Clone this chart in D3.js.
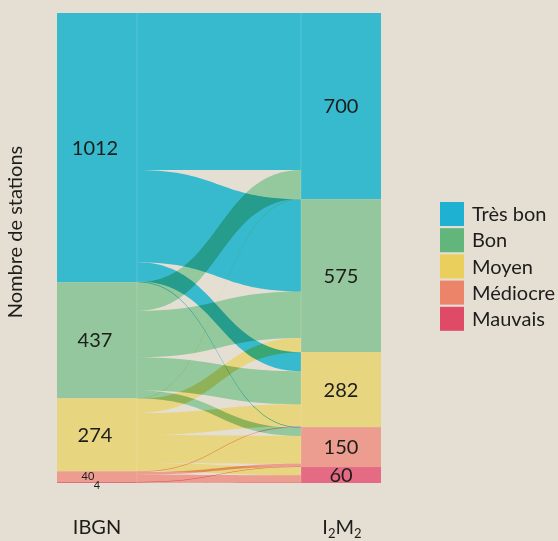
<!DOCTYPE html>
<html>
<head>
<meta charset="utf-8">
<script src="https://cdn.jsdelivr.net/npm/d3@7"></script>
<style>
  html, body { margin: 0; padding: 0; background: #e5ded3; }
  svg { display: block; font-family: Lato, "Open Sans", sans-serif; }
</style>
</head>
<body>
<div id="viz"></div>
<script>
// classes de qualité, du meilleur au pire
const categories = ['Très bon', 'Bon', 'Moyen', 'Médiocre', 'Mauvais'];
const ibgnTotals = [1012, 437, 274, 40, 4];
const i2m2Totals = [700, 575, 282, 150, 60];
// flows[i][j] : stations classées i par IBGN et j par I2M2
const flows = [
  [590, 347, 72, 3, 0],
  [108, 175, 124, 30, 0],
  [2, 53, 83, 105, 31],
  [0, 0, 3, 10, 27],
  [0, 0, 0, 2, 2]
];
const nodeColors = ['#37b9ce', '#94c79d', '#e8d580', '#ec9d8f', '#e46b83'];
const legendColors = ['#1eb1d1', '#62b67c', '#ebcf5c', '#eb8468', '#df4a66'];
const bg = '#e5ded3';

const width = 558, height = 541;
const plotTop = 13, plotBottom = 483;
const leftX0 = 57, leftX1 = 137, rightX0 = 301, rightX1 = 381;

const total = d3.sum(ibgnTotals);
const y = d3.scaleLinear().domain([0, total]).range([plotTop, plotBottom]);

const svg = d3.select('#viz').append('svg')
  .attr('width', width).attr('height', height)
  .attr('viewBox', `0 0 ${width} ${height}`);

// cumulative starts for nodes
const stackStarts = (vals) => { let acc = 0; return vals.map(v => { const s = acc; acc += v; return s; }); };
const leftStart = stackStarts(ibgnTotals);
const rightStart = stackStarts(i2m2Totals);

// links: outgoing stacked in target order, incoming in source order
const outOff = leftStart.slice();
const links = [];
flows.forEach((row, i) => row.forEach((v, j) => {
  links.push({ source: i, target: j, value: v, s0: outOff[i], t0: 0 });
  outOff[i] += v;
}));
categories.forEach((c, j) => {
  let acc = rightStart[j];
  links.filter(l => l.target === j).sort((a, b) => a.source - b.source)
    .forEach(l => { l.t0 = acc; acc += l.value; });
});

const xm = (leftX1 + rightX0) / 2;
function band(l) {
  const a0 = y(l.s0), a1 = y(l.s0 + l.value);
  const b0 = y(l.t0), b1 = y(l.t0 + l.value);
  const p = d3.path();
  p.moveTo(leftX1, a0);
  p.bezierCurveTo(xm, a0, xm, b0, rightX0, b0);
  p.lineTo(rightX0, b1);
  p.bezierCurveTo(xm, b1, xm, a1, leftX1, a1);
  p.closePath();
  return p.toString();
}

// flow colour chosen so that, at this opacity over the background, it matches the node
const flowAlpha = 0.78;
const b = d3.rgb(bg);
const flowColor = (c) => {
  const n = d3.rgb(c);
  const f = (v, w) => Math.max(0, Math.min(255, (v - (1 - flowAlpha) * w) / flowAlpha));
  return d3.rgb(f(n.r, b.r), f(n.g, b.g), f(n.b, b.b)).formatHex();
};

const flowLayer = svg.append('g').style('isolation', 'isolate');
flowLayer.selectAll('path')
  .data(links.filter(l => l.value > 0))
  .enter().append('path')
    .attr('d', band)
    .attr('fill', d => flowColor(nodeColors[d.source]))
    .attr('fill-opacity', flowAlpha)
    .style('mix-blend-mode', 'multiply');

// node columns
svg.append('g').selectAll('rect')
  .data(ibgnTotals)
  .enter().append('rect')
    .attr('x', leftX0)
    .attr('width', leftX1 - leftX0)
    .attr('y', (d, i) => y(leftStart[i]))
    .attr('height', d => y(d) - y(0))
    .attr('fill', (d, i) => nodeColors[i]);

svg.append('g').selectAll('rect')
  .data(i2m2Totals)
  .enter().append('rect')
    .attr('x', rightX0)
    .attr('width', rightX1 - rightX0)
    .attr('y', (d, i) => y(rightStart[i]))
    .attr('height', d => y(d) - y(0))
    .attr('fill', (d, i) => nodeColors[i]);

// faint seams
svg.selectAll('line.seam')
  .data([leftX1, rightX0])
  .enter().append('line')
    .attr('x1', d => d).attr('x2', d => d)
    .attr('y1', plotTop).attr('y2', plotBottom)
    .attr('stroke', '#ffffff').attr('stroke-opacity', 0.15);

// value labels
const labelColor = '#1d1d1b';
svg.append('g').selectAll('text')
  .data(ibgnTotals.slice(0, 3))
  .enter().append('text')
    .attr('x', 95)
    .attr('y', (d, i) => y(leftStart[i] + d / 2))
    .attr('dy', '0.36em')
    .attr('text-anchor', 'middle')
    .attr('font-size', 20)
    .attr('fill', labelColor)
    .text(d => d);

svg.append('text')
  .attr('x', 88).attr('y', y(leftStart[3] + ibgnTotals[3] / 2))
  .attr('dy', '0.35em').attr('text-anchor', 'middle')
  .attr('font-size', 11).attr('fill', labelColor)
  .text(ibgnTotals[3]);
svg.append('text')
  .attr('x', 97).attr('y', 489)
  .attr('text-anchor', 'middle')
  .attr('font-size', 11).attr('fill', labelColor)
  .text(ibgnTotals[4]);

svg.append('g').selectAll('text')
  .data(i2m2Totals)
  .enter().append('text')
    .attr('x', (rightX0 + rightX1) / 2)
    .attr('y', (d, i) => y(rightStart[i] + d / 2))
    .attr('dy', '0.36em')
    .attr('text-anchor', 'middle')
    .attr('font-size', 20)
    .attr('fill', labelColor)
    .text(d => d);

// axis titles
svg.append('text')
  .attr('transform', 'translate(22, 232) rotate(-90)')
  .attr('text-anchor', 'middle')
  .attr('font-size', 20)
  .attr('fill', labelColor)
  .text('Nombre de stations');

svg.append('text')
  .attr('x', (leftX0 + leftX1) / 2).attr('y', 534)
  .attr('text-anchor', 'middle')
  .attr('font-size', 20)
  .attr('fill', labelColor)
  .text('IBGN');

const i2m2 = svg.append('text')
  .attr('x', (rightX0 + rightX1) / 2 + 1).attr('y', 534)
  .attr('text-anchor', 'middle')
  .attr('font-size', 20)
  .attr('fill', labelColor);
i2m2.append('tspan').text('I');
i2m2.append('tspan').attr('font-size', 13).attr('dy', 4).text('2');
i2m2.append('tspan').attr('dy', -4).text('M');
i2m2.append('tspan').attr('font-size', 13).attr('dy', 4).text('2');

// legend
const legend = svg.append('g').attr('transform', 'translate(440, 202)');
const item = legend.selectAll('g')
  .data(categories)
  .enter().append('g')
    .attr('transform', (d, i) => `translate(0, ${i * 26.2})`);
item.append('rect')
  .attr('width', 24).attr('height', 24)
  .attr('fill', (d, i) => legendColors[i]);
item.append('text')
  .attr('x', 32).attr('y', 12).attr('dy', '0.36em')
  .attr('font-size', 20)
  .attr('fill', labelColor)
  .text(d => d);
</script>
</body>
</html>
